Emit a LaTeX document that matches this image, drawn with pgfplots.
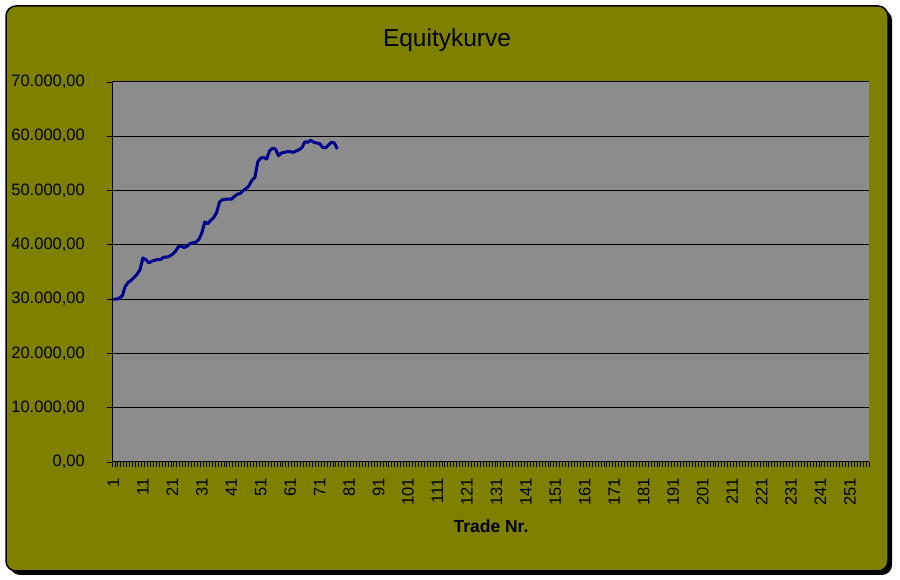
\documentclass[border=0pt]{standalone}
\usepackage{pgfplots}
\pgfplotsset{compat=1.18}
\usepackage{fontspec}
\setmainfont{Liberation Sans}
\definecolor{olivebg}{RGB}{128,128,0}
\definecolor{plotgray}{RGB}{140,140,140}
\definecolor{linenavy}{RGB}{0,0,140}
\begin{document}
\begin{tikzpicture}[x=1bp,y=1bp]
\fill[white] (0,0) rectangle (900,580);
\fill[black, rounded corners=10bp] (10,5) rectangle (892,570);
\filldraw[fill=olivebg, draw=black, line width=1.5bp, rounded corners=10bp] (6,9) rectangle (888,574);
\node[font=\fontsize{24.5bp}{27bp}\selectfont] at (447,540) {Equitykurve};
\node[font=\fontsize{17.5bp}{20bp}\selectfont\bfseries] at (491,54) {Trade Nr.};
\begin{axis}[
  at={(112bp,118bp)}, anchor=south west,
  scale only axis, width=757bp, height=380bp,
  xmin=0.5, xmax=257.5, ymin=0, ymax=70000,
  axis x line*=bottom, axis y line*=left,
  axis line style={black, line width=1bp},
  axis background/.style={fill=plotgray},
  /pgf/number format/assume math mode=true,
  scaled y ticks=false,
  tick align=outside,
  ticklabel style={font=\fontsize{16.5bp}{18bp}\selectfont},
  xtick={0.5,1.5,...,257.5},
  xticklabels={},
  major tick length=5bp,
  tick style={black, line width=0.8bp},
  extra x ticks={1,11,...,251},
  extra x tick style={major tick length=0pt, xticklabel style={rotate=90, anchor=east, inner sep=0pt}},
  xticklabel shift=16bp,
  ytick={0,10000,20000,30000,40000,50000,60000,70000},
  yticklabels={{0,00},{10.000,00},{20.000,00},{30.000,00},{40.000,00},{50.000,00},{60.000,00},{70.000,00}},
  yticklabel style={anchor=east, inner sep=0pt},
  yticklabel shift=22bp,
  ymajorgrids,
  grid style={black, line width=1bp},
  clip=false,
]
\addplot[color=linenavy, line width=3bp, line join=round, mark=none] coordinates {
(1,30000)(2,30000)(3,30190)(4,30620)(5,32350)(6,33090)(7,33460)(8,34010)(9,34570)(10,35430)
(11,37590)(12,37280)(13,36670)(14,36980)(15,37160)(16,37280)(17,37280)(18,37720)(19,37720)(20,37900)
(21,38270)(22,38770)(23,39630)(24,39750)(25,39510)(26,39750)(27,40250)(28,40370)(29,40490)(30,40990)
(31,42220)(32,44200)(33,43890)(34,44510)(35,45000)(36,45930)(37,47900)(38,48330)(39,48400)(40,48400)
(41,48400)(42,48890)(43,49320)(44,49450)(45,50000)(46,50370)(47,50870)(48,51910)(49,52410)(50,55310)
(51,55990)(52,56110)(53,55800)(54,57350)(55,57780)(56,57660)(57,56420)(58,56910)(59,57040)(60,57160)
(61,57160)(62,57040)(63,57280)(64,57530)(65,57900)(66,59010)(67,58890)(68,59260)(69,58890)(70,58770)
(71,58640)(72,57960)(73,57840)(74,58400)(75,58890)(76,58770)(77,57660)
};
\end{axis}
\end{tikzpicture}
\end{document}
